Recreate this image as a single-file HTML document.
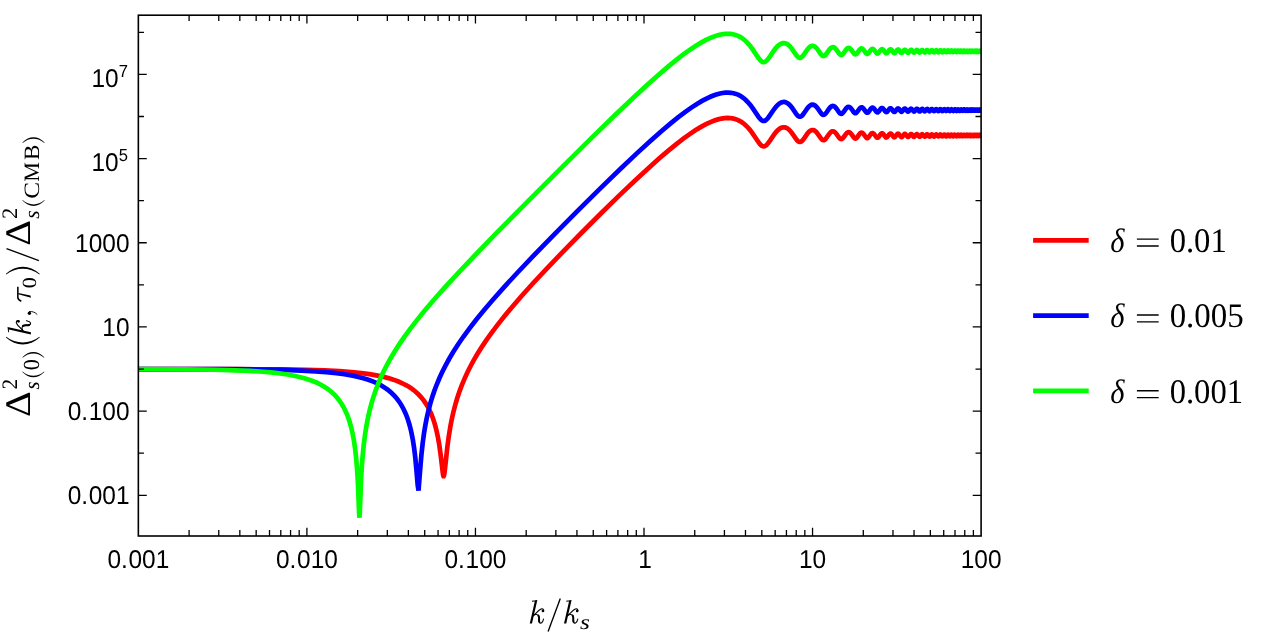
<!DOCTYPE html>
<html><head><meta charset="utf-8"><title>Plot</title>
<style>html,body{margin:0;padding:0;background:#fff;}body{width:1264px;height:642px;overflow:hidden;font-family:"Liberation Sans",sans-serif;}svg{display:block;will-change:transform;}text{text-rendering:geometricPrecision;}</style>
</head><body>
<svg width="1264" height="642" viewBox="0 0 1264 642">
<rect width="1264" height="642" fill="#fff"/>
<defs><clipPath id="c"><rect x="138.35" y="15.2" width="842.75" height="520.80"/></clipPath></defs>
<g clip-path="url(#c)" fill="none" stroke-width="4.7" stroke-linejoin="miter" stroke-miterlimit="3" stroke-linecap="butt">
<path stroke="#ff0000" d="M137.35,369.04l101,0.12 41,0.28 26,0.43 19,0.59 15,0.74 12,0.88 10,1.01 8,1.07 7,1.18 6,1.24 6,1.53 5,1.54 5,1.84 4,1.76 4,2.06 3,1.79 3,2.05 3,2.36 3,2.75 2,2.09 2,2.34 2,2.65 2,3.02 2,3.48 2,4.07 1,2.3 1,2.52 1,2.78 1,3.08 1,3.45 1,3.88 1.56,7.2 1.44,8.29 1.41,10.19 2.13,18 0.4,2.04 0.24,0.5 0.16,0.01 0.28,-0.57 0.48,-2.43 0.9,-7.57 1.91,-17.78 1.49,-11.25 1.6,-9.88 1,-5.29 1,-4.77 1,-4.36 2,-7.72 2,-6.72 2,-5.98 2,-5.42 3,-7.31 3,-6.58 3,-6.01 3,-5.57 4,-6.89 4,-6.41 5,-7.49 5,-7.04 6,-7.99 7,-8.84 8,-9.63 9,-10.38 11,-12.22 13,-13.97 16,-16.72 19,-19.38 20,-19.97 19,-18.57 16,-15.25 13,-12.02 11,-9.82 9,-7.71 8,-6.53 7,-5.41 6,-4.34 6,-4.03 5.65,-3.44 5,-2.71 4.5,-2.11 4,-1.57 3.5,-1.11 3.5,-0.82 3,-0.45 3,-0.17 2.5,0.09 2.5,0.33 2.5,0.59 2.5,0.88 2.5,1.22 2.5,1.58 2,1.55 2.5,2.34 2.5,2.8 2.5,3.26 3.5,5.17 3,4.45 1.5,1.89 1,1.01 1,0.74 1,0.42 0.5,0.08 0.5,-0.01 0.5,-0.11 1,-0.46 1,-0.78 1.5,-1.66 2,-2.79 4,-5.93 2,-2.55 1.5,-1.61 1.5,-1.3 1.5,-0.97 1.5,-0.62 1,-0.22 1,-0.04 1,0.12 1,0.29 1.5,0.77 1.5,1.17 1.5,1.55 1.5,1.89 4,5.84 1,1.27 1,1.01 0.5,0.37 0.5,0.26 0.5,0.15 0.75,0.01 0.75,-0.27 0.75,-0.52 1,-1.02 1.75,-2.38 2.75,-4.01 1.5,-1.78 1.25,-1.1 1,-0.59 1,-0.31 1,-0.02 1,0.28 1,0.58 1.25,1.12 1.5,1.85 3,4.34 1,1.15 0.75,0.58 0.75,0.28 0.75,-0.05 0.75,-0.39 0.75,-0.68 1.25,-1.61 2.5,-3.61 1.25,-1.4 1,-0.75 0.75,-0.3 0.75,-0.07 0.75,0.17 0.75,0.4 1,0.89 1.25,1.56 2.25,3.25 1,1.08 0.75,0.44 0.5,0.07 0.5,-0.11 0.75,-0.49 1,-1.14 2.5,-3.56 1,-1.06 0.75,-0.49 0.75,-0.21 0.75,0.11 0.75,0.41 0.75,0.7 1.25,1.63 1.75,2.49 0.75,0.73 0.5,0.27 0.5,0.06 0.5,-0.15 0.75,-0.6 1,-1.29 1.75,-2.48 0.75,-0.78 0.75,-0.45 0.5,-0.1 0.5,0.06 0.75,0.42 0.75,0.75 2.25,3.15 0.75,0.74 0.5,0.25 0.5,0 0.5,-0.24 0.75,-0.75 2,-2.82 0.75,-0.77 0.5,-0.3 0.5,-0.1 0.5,0.09 0.75,0.51 1,1.22 1.5,2.11 0.5,0.48 0.5,0.24 0.5,-0.03 0.5,-0.31 0.75,-0.85 1.5,-2.14 0.75,-0.74 0.5,-0.25 0.5,-0.02 0.5,0.21 0.75,0.71 1.75,2.45 0.5,0.49 0.5,0.23 0.5,-0.08 0.5,-0.36 1,-1.32 1,-1.38 0.5,-0.47 0.5,-0.24 0.5,0.02 0.5,0.28 0.75,0.83 1.25,1.78 0.5,0.51 0.5,0.23 0.25,-0.02 0.5,-0.27 0.75,-0.89 1.25,-1.74 0.5,-0.42 0.5,-0.15 0.5,0.14 0.5,0.42 1.75,2.35 0.5,0.36 0.25,0.06 0.25,-0.05 0.5,-0.35 1,-1.35 0.75,-0.98 0.5,-0.37 0.25,-0.07 0.25,0 0.5,0.26 0.75,0.88 1,1.41 0.5,0.41 0.25,0.07 0.25,-0.04 0.5,-0.35 1.5,-2.03 0.5,-0.41 0.25,-0.08 0.25,0.01 0.5,0.28 0.75,0.94 0.75,1.06 0.5,0.43 0.25,0.07 0.25,-0.04 0.5,-0.38 1.25,-1.72 0.5,-0.45 0.25,-0.09 0.25,0.01 0.5,0.3 1,1.34 0.5,0.63 0.25,0.2 0.25,0.09 0.25,-0.02 0.25,-0.13 0.5,-0.56 1,-1.38 0.5,-0.36 0.25,-0.03 0.25,0.07 0.5,0.44 1.25,1.67 0.25,0.17 0.25,0.05 0.25,-0.07 0.5,-0.48 1,-1.38 0.25,-0.23 0.25,-0.14 0.25,-0.02 0.25,0.1 0.5,0.48 1,1.38 0.25,0.2 0.25,0.09 0.25,-0.05 0.5,-0.45 1,-1.37 0.25,-0.21 0.25,-0.1 0.25,0.03 0.25,0.14 0.5,0.57 0.75,1.05 0.25,0.22 0.25,0.1 0.25,-0.04 0.5,-0.46 1,-1.34 0.25,-0.17 0.25,-0.04 0.25,0.09 0.5,0.51 0.75,1.05 0.25,0.24 0.25,0.1 0.25,-0.04 0.5,-0.48 0.75,-1.06 0.25,-0.23 0.25,-0.12 0.25,0.03 0.25,0.15 1.25,1.58 0.25,0.12 0.25,-0.04 0.25,-0.19 1,-1.33 0.25,-0.21 0.25,-0.06 0.25,0.07 0.5,0.52 0.75,1.01 0.25,0.16 0.25,0 0.25,-0.16 1,-1.31 0.25,-0.2 0.25,-0.05 0.25,0.11 0.5,0.57 0.5,0.71 0.25,0.23 0.25,0.08 0.25,-0.09 0.5,-0.58 0.5,-0.7 0.25,-0.22 0.25,-0.07 0.25,0.09 0.5,0.57 0.5,0.7 0.25,0.21 0.25,0.05 0.25,-0.13 1,-1.28 0.25,-0.16 0.25,0.02 0.25,0.17 0.75,1.02 0.25,0.24 0.25,0.09 0.25,-0.11 1,-1.26 0.25,-0.14 0.25,0.03 0.25,0.2 0.75,1.02 0.25,0.2 0.25,0 0.25,-0.17 0.75,-1.02 0.25,-0.2 0.25,-0.03 0.25,0.16 0.75,1 0.25,0.21 0.25,0.03 0.25,-0.17 0.75,-1 0.25,-0.19 0.25,0.01 0.25,0.18 0.75,1 0.25,0.15 0.25,-0.05 0.5,-0.6 0.5,-0.61 0.25,-0.07 0.25,0.12 0.75,0.99 0.25,0.19 0.25,-0.03 0.25,-0.22 0.5,-0.71 0.25,-0.25 0.25,-0.07 0.25,0.14 0.75,0.98 0.25,0.15 0.25,-0.08 0.75,-0.97 0.25,-0.18 0.25,0.03 0.25,0.22 0.5,0.7 0.25,0.23 0.25,0 0.25,-0.21 0.5,-0.71 0.25,-0.22 0.25,-0.01 0.25,0.19 0.5,0.7 0.25,0.23 0.25,0.01 0.25,-0.22 0.5,-0.69 0.25,-0.2 0.25,0.01 0.25,0.24 0.5,0.69 0.25,0.17 0.25,-0.07 0.75,-0.94 0.25,-0.11 0.25,0.13 0.75,0.93 0.25,0.03 0.25,-0.22 0.5,-0.69 0.25,-0.16 0.25,0.08 0.25,0.29"/>
<path stroke="#0000ff" d="M137.35,369.05l83,0.14 38,0.3 25,0.47 18,0.6 14,0.73 11,0.82 10,1.03 8,1.08 7,1.19 6,1.27 6,1.54 5,1.56 5,1.88 4,1.79 4,2.09 3,1.83 3,2.09 3,2.41 3,2.82 2,2.14 2,2.42 2,2.73 2,3.12 2,3.62 2,4.24 1,2.42 1,2.66 1,2.94 1,3.29 1,3.71 1,4.23 1.48,7.55 1.29,8.3 1.2,9.99 1.2,13 1.21,14.31 0.85,5.24 0.35,-5.36 1.21,-15.36 1.28,-15.17 1.28,-11.79 1.41,-10.2 1.24,-7.45 1,-5.23 1,-4.71 1,-4.3 2,-7.61 2,-6.63 2,-5.9 2,-5.36 3,-7.23 3,-6.52 3,-5.96 4,-7.3 4,-6.72 5,-7.79 5,-7.27 6,-8.2 7,-9.03 8,-9.79 9,-10.51 11,-12.35 13,-14.09 16,-16.85 20,-20.56 24,-24.19 24,-23.75 20,-19.4 16,-15.15 13,-11.93 11,-9.73 9,-7.62 8,-6.44 7,-5.3 6,-4.25 6,-3.9 5.15,-3.03 4.5,-2.35 4.5,-2.03 4,-1.5 3.5,-1.03 3.5,-0.73 3,-0.35 3,-0.08 2.5,0.19 2.5,0.43 2.5,0.7 2.5,1.01 2.5,1.36 2.5,1.74 2,1.69 2.5,2.52 2.5,2.99 2.5,3.44 5.5,8.21 1.5,1.89 1,1.01 1,0.74 1,0.42 0.5,0.07 0.5,-0.01 0.5,-0.1 1,-0.46 1,-0.79 1.5,-1.66 2,-2.8 4,-5.92 2,-2.56 1.5,-1.6 1.5,-1.31 1.5,-0.97 1.5,-0.62 1,-0.22 1,-0.04 1,0.12 1,0.3 1.5,0.77 1.5,1.16 1.5,1.55 1.5,1.89 4,5.85 1,1.28 1,1.01 0.5,0.37 0.5,0.26 0.5,0.15 0.75,0 0.75,-0.27 0.75,-0.52 1,-1.02 1.75,-2.38 2.75,-4.01 1.5,-1.78 1.25,-1.11 1,-0.59 1,-0.31 1,-0.01 1,0.28 1,0.58 1.25,1.12 1.5,1.84 3,4.35 1,1.15 0.75,0.59 0.75,0.28 0.75,-0.06 0.75,-0.39 0.75,-0.68 1.25,-1.61 2.5,-3.61 1.25,-1.41 1,-0.74 0.75,-0.31 0.75,-0.07 0.75,0.17 0.75,0.41 1,0.88 1.25,1.57 2.25,3.25 1,1.08 0.75,0.44 0.5,0.07 0.5,-0.11 0.75,-0.49 1,-1.14 2.5,-3.56 1,-1.06 0.75,-0.5 0.75,-0.2 0.75,0.11 0.75,0.41 0.75,0.69 1.25,1.64 1.75,2.49 0.75,0.73 0.5,0.27 0.5,0.06 0.5,-0.15 0.75,-0.6 1,-1.29 1.75,-2.49 0.75,-0.77 0.75,-0.46 0.5,-0.1 0.5,0.07 0.75,0.42 0.75,0.75 2.25,3.15 0.75,0.75 0.5,0.24 0.5,0 0.5,-0.24 0.75,-0.75 2,-2.83 0.75,-0.76 0.5,-0.3 0.5,-0.11 0.5,0.1 0.75,0.5 1,1.23 1.5,2.11 0.5,0.48 0.5,0.24 0.5,-0.03 0.5,-0.3 0.75,-0.86 1.5,-2.14 0.75,-0.74 0.5,-0.25 0.5,-0.02 0.5,0.21 0.75,0.71 1.75,2.45 0.5,0.49 0.5,0.23 0.5,-0.08 0.5,-0.36 1,-1.32 1,-1.38 0.5,-0.48 0.5,-0.24 0.5,0.02 0.5,0.28 0.75,0.84 1.25,1.78 0.5,0.51 0.5,0.23 0.25,-0.01 0.5,-0.28 0.75,-0.89 1.25,-1.74 0.5,-0.42 0.5,-0.16 0.5,0.15 0.5,0.42 1.75,2.35 0.5,0.37 0.25,0.05 0.25,-0.05 0.5,-0.35 1,-1.35 0.75,-0.98 0.5,-0.37 0.25,-0.08 0.25,0.01 0.5,0.26 0.75,0.88 1,1.41 0.5,0.41 0.25,0.07 0.25,-0.04 0.5,-0.35 1.5,-2.03 0.5,-0.41 0.25,-0.08 0.25,0.01 0.5,0.28 0.75,0.93 0.75,1.07 0.5,0.43 0.25,0.07 0.25,-0.04 0.5,-0.38 1.25,-1.72 0.5,-0.45 0.25,-0.09 0.25,0.01 0.5,0.3 1,1.34 0.5,0.63 0.25,0.2 0.25,0.09 0.25,-0.02 0.25,-0.13 0.5,-0.56 1,-1.38 0.5,-0.36 0.25,-0.03 0.25,0.07 0.5,0.44 1.25,1.67 0.25,0.17 0.25,0.05 0.25,-0.07 0.5,-0.48 1,-1.38 0.25,-0.24 0.25,-0.13 0.25,-0.02 0.25,0.09 0.5,0.49 1,1.38 0.25,0.2 0.25,0.09 0.25,-0.05 0.5,-0.45 1,-1.37 0.25,-0.21 0.25,-0.1 0.25,0.03 0.25,0.14 0.5,0.57 0.75,1.05 0.25,0.22 0.25,0.1 0.25,-0.04 0.5,-0.46 1,-1.34 0.25,-0.17 0.25,-0.04 0.25,0.09 0.5,0.51 0.75,1.05 0.25,0.24 0.25,0.1 0.25,-0.04 0.5,-0.48 0.75,-1.06 0.25,-0.23 0.25,-0.12 0.25,0.02 0.25,0.16 1.25,1.58 0.25,0.12 0.25,-0.04 0.25,-0.19 1,-1.33 0.25,-0.21 0.25,-0.07 0.25,0.08 0.5,0.52 0.75,1.01 0.25,0.16 0.25,0 0.25,-0.16 1,-1.32 0.25,-0.19 0.25,-0.05 0.25,0.1 0.5,0.58 0.5,0.71 0.25,0.23 0.25,0.08 0.25,-0.09 0.5,-0.58 0.5,-0.7 0.25,-0.22 0.25,-0.07 0.25,0.09 0.5,0.57 0.5,0.7 0.25,0.21 0.25,0.05 0.25,-0.13 1,-1.29 0.25,-0.15 0.25,0.01 0.25,0.18 0.75,1.02 0.25,0.24 0.25,0.09 0.25,-0.11 1,-1.26 0.25,-0.14 0.25,0.03 0.25,0.2 0.75,1.02 0.25,0.2 0.25,0 0.25,-0.17 0.75,-1.02 0.25,-0.2 0.25,-0.03 0.25,0.16 0.75,1 0.25,0.21 0.25,0.03 0.25,-0.17 0.75,-1 0.25,-0.19 0.25,0 0.25,0.19 0.75,1 0.25,0.15 0.25,-0.05 0.5,-0.6 0.5,-0.61 0.25,-0.07 0.25,0.12 0.75,0.99 0.25,0.19 0.25,-0.03 0.25,-0.22 0.5,-0.71 0.25,-0.25 0.25,-0.07 0.25,0.14 0.75,0.98 0.25,0.15 0.25,-0.08 0.75,-0.97 0.25,-0.18 0.25,0.02 0.25,0.23 0.5,0.7 0.25,0.23 0.25,0 0.25,-0.21 0.5,-0.71 0.25,-0.22 0.25,-0.02 0.25,0.2 0.5,0.7 0.25,0.23 0.25,0.01 0.25,-0.22 0.5,-0.69 0.25,-0.21 0.25,0.02 0.25,0.24 0.5,0.69 0.25,0.17 0.25,-0.07 0.75,-0.94 0.25,-0.11 0.25,0.13 0.75,0.93 0.25,0.03 0.25,-0.22 0.5,-0.69 0.25,-0.16 0.25,0.08 0.25,0.29"/>
<path stroke="#00ff00" d="M137.35,369.11l49,0.24 29,0.4 20,0.53 15,0.65 13,0.85 10,0.91 9,1.08 8,1.26 7,1.4 6,1.49 5,1.51 5,1.8 4,1.72 4,2.01 3,1.74 3,1.99 3,2.3 3,2.66 2,2.03 2,2.27 2,2.57 2,2.91 2,3.36 2,3.91 1,2.22 1,2.43 1,2.67 1,2.97 1,3.32 1,3.76 1,4.31 1.44,7.52 1.25,8.35 1.08,9.52 0.96,11.44 0.85,14.11 0.84,20.77 0.36,9.82 0.32,3.79 0.32,-4.55 1.09,-29.14 0.84,-15.61 1,-13.26 1.17,-11.45 1.32,-10.11 1.16,-7.25 1,-5.42 1,-4.85 1,-4.39 2,-7.75 2,-6.72 2,-5.97 2,-5.4 3,-7.28 3,-6.55 3,-5.99 4,-7.32 4,-6.74 5,-7.81 5,-7.28 6,-8.22 7,-9.04 8,-9.8 9,-10.53 11,-12.36 13,-14.12 16,-16.89 21,-21.67 29,-29.4 36,-36.03 32,-31.63 23,-22.36 18,-17.12 14,-12.94 11,-9.82 10,-8.56 8,-6.52 7,-5.39 7,-5.04 6,-3.96 5.15,-3.09 5,-2.66 4.5,-2.07 4,-1.53 3.5,-1.07 3.5,-0.78 3,-0.39 3,-0.13 2.5,0.14 2.5,0.38 2.5,0.65 2.5,0.95 2.5,1.28 2.5,1.66 2,1.63 2.5,2.43 2.5,2.9 2.5,3.35 6,8.93 1.5,1.89 1,1.01 1,0.74 1,0.42 0.5,0.08 0.5,-0.01 0.5,-0.1 1,-0.47 1,-0.78 1.5,-1.67 2,-2.79 4,-5.93 2,-2.56 1.5,-1.61 1.5,-1.3 1.5,-0.97 1.5,-0.63 1,-0.21 1,-0.05 1,0.13 1,0.29 1.5,0.77 1.5,1.17 1.5,1.55 1.5,1.89 4,5.85 1,1.28 1,1.01 0.5,0.37 0.5,0.26 0.5,0.15 0.75,0 0.75,-0.26 0.75,-0.52 1,-1.03 1.75,-2.38 2.75,-4.01 1.5,-1.78 1.25,-1.11 1,-0.59 1,-0.31 1,-0.02 1,0.29 1,0.57 1.25,1.13 1.5,1.84 3,4.36 1,1.15 0.75,0.58 0.75,0.28 0.75,-0.06 0.75,-0.39 0.75,-0.68 1.25,-1.61 2.5,-3.61 1.25,-1.41 1,-0.75 0.75,-0.3 0.75,-0.07 0.75,0.17 0.75,0.4 1,0.89 1.25,1.57 2.25,3.26 1,1.08 0.75,0.43 0.5,0.08 0.5,-0.11 0.75,-0.49 1,-1.14 2.5,-3.57 1,-1.06 0.75,-0.5 0.75,-0.2 0.75,0.11 0.75,0.41 0.75,0.69 1.25,1.64 1.75,2.49 0.75,0.73 0.5,0.27 0.5,0.06 0.5,-0.15 0.75,-0.6 1,-1.28 1.75,-2.5 0.75,-0.77 0.75,-0.46 0.5,-0.1 0.5,0.07 0.75,0.42 0.75,0.75 2.25,3.15 0.75,0.75 0.5,0.24 0.5,0 0.5,-0.24 0.75,-0.75 2,-2.83 0.75,-0.76 0.5,-0.3 0.5,-0.11 0.5,0.1 0.75,0.5 1,1.23 1.5,2.11 0.5,0.48 0.5,0.24 0.5,-0.03 0.5,-0.3 0.75,-0.86 1.5,-2.14 0.75,-0.75 0.5,-0.24 0.5,-0.02 0.5,0.21 0.75,0.71 1.75,2.45 0.5,0.49 0.5,0.23 0.5,-0.07 0.5,-0.37 1,-1.32 1,-1.38 0.5,-0.48 0.5,-0.24 0.5,0.02 0.5,0.28 0.75,0.84 1.25,1.78 0.5,0.52 0.5,0.22 0.25,-0.01 0.5,-0.28 0.75,-0.89 1.25,-1.74 0.5,-0.42 0.5,-0.16 0.5,0.15 0.5,0.42 1.75,2.36 0.5,0.36 0.25,0.05 0.25,-0.04 0.5,-0.35 1,-1.36 0.75,-0.98 0.5,-0.37 0.25,-0.08 0.25,0.01 0.5,0.26 0.75,0.88 1,1.41 0.5,0.41 0.25,0.07 0.25,-0.04 0.5,-0.35 1.5,-2.03 0.5,-0.41 0.25,-0.08 0.25,0.01 0.5,0.28 0.75,0.94 0.75,1.06 0.5,0.43 0.25,0.07 0.25,-0.04 0.5,-0.38 1.25,-1.72 0.5,-0.45 0.25,-0.09 0.25,0.01 0.5,0.3 1,1.34 0.5,0.63 0.25,0.2 0.25,0.1 0.25,-0.03 0.25,-0.13 0.5,-0.55 1,-1.39 0.5,-0.36 0.25,-0.03 0.25,0.07 0.5,0.44 1.25,1.67 0.25,0.17 0.25,0.06 0.25,-0.08 0.5,-0.47 1,-1.39 0.25,-0.24 0.25,-0.13 0.25,-0.02 0.25,0.09 0.5,0.49 1,1.38 0.25,0.2 0.25,0.09 0.25,-0.05 0.5,-0.45 1,-1.37 0.25,-0.21 0.25,-0.1 0.25,0.03 0.25,0.14 0.5,0.57 0.75,1.05 0.25,0.22 0.25,0.1 0.25,-0.04 0.5,-0.46 1,-1.34 0.25,-0.17 0.25,-0.04 0.25,0.09 0.5,0.51 0.75,1.06 0.25,0.23 0.25,0.1 0.25,-0.04 0.5,-0.48 0.75,-1.06 0.25,-0.23 0.25,-0.12 0.25,0.02 0.25,0.16 1,1.33 0.25,0.25 0.25,0.12 0.25,-0.04 0.25,-0.18 1,-1.34 0.25,-0.21 0.25,-0.07 0.25,0.08 0.5,0.52 0.75,1.02 0.25,0.15 0.25,0 0.25,-0.16 1,-1.32 0.25,-0.19 0.25,-0.05 0.25,0.1 0.5,0.58 0.5,0.71 0.25,0.23 0.25,0.08 0.25,-0.09 0.5,-0.58 0.5,-0.7 0.25,-0.22 0.25,-0.07 0.25,0.09 0.5,0.57 0.5,0.7 0.25,0.21 0.25,0.05 0.25,-0.13 1,-1.29 0.25,-0.15 0.25,0.01 0.25,0.18 0.75,1.02 0.25,0.25 0.25,0.08 0.25,-0.11 1,-1.26 0.25,-0.14 0.25,0.03 0.25,0.2 0.75,1.02 0.25,0.2 0.25,0.01 0.25,-0.18 0.75,-1.02 0.25,-0.2 0.25,-0.03 0.25,0.16 0.75,1 0.25,0.22 0.25,0.02 0.25,-0.17 0.75,-1 0.25,-0.19 0.25,0.01 0.25,0.18 0.75,1 0.25,0.15 0.25,-0.05 0.5,-0.6 0.5,-0.61 0.25,-0.07 0.25,0.12 0.75,0.99 0.25,0.19 0.25,-0.03 0.25,-0.22 0.5,-0.71 0.25,-0.25 0.25,-0.07 0.25,0.14 0.75,0.98 0.25,0.15 0.25,-0.08 0.75,-0.97 0.25,-0.18 0.25,0.02 0.25,0.23 0.5,0.7 0.25,0.23 0.25,0 0.25,-0.21 0.5,-0.71 0.25,-0.22 0.25,-0.01 0.25,0.19 0.5,0.7 0.25,0.23 0.25,0.01 0.25,-0.22 0.5,-0.69 0.25,-0.21 0.25,0.02 0.25,0.24 0.5,0.69 0.25,0.17 0.25,-0.07 0.75,-0.94 0.25,-0.11 0.25,0.13 0.75,0.94 0.25,0.02 0.25,-0.22 0.5,-0.69 0.25,-0.16 0.25,0.08 0.25,0.29"/>
</g>
<path d="M189.09,536.0v-5.9M189.09,15.2v5.9M218.77,536.0v-5.9M218.77,15.2v5.9M239.83,536.0v-5.9M239.83,15.2v5.9M256.16,536.0v-5.9M256.16,15.2v5.9M269.51,536.0v-5.9M269.51,15.2v5.9M280.79,536.0v-5.9M280.79,15.2v5.9M290.57,536.0v-5.9M290.57,15.2v5.9M299.19,536.0v-5.9M299.19,15.2v5.9M306.90,536.0v-8.2M306.90,15.2v8.2M357.64,536.0v-5.9M357.64,15.2v5.9M387.32,536.0v-5.9M387.32,15.2v5.9M408.38,536.0v-5.9M408.38,15.2v5.9M424.71,536.0v-5.9M424.71,15.2v5.9M438.06,536.0v-5.9M438.06,15.2v5.9M449.34,536.0v-5.9M449.34,15.2v5.9M459.12,536.0v-5.9M459.12,15.2v5.9M467.74,536.0v-5.9M467.74,15.2v5.9M475.45,536.0v-8.2M475.45,15.2v8.2M526.19,536.0v-5.9M526.19,15.2v5.9M555.87,536.0v-5.9M555.87,15.2v5.9M576.93,536.0v-5.9M576.93,15.2v5.9M593.26,536.0v-5.9M593.26,15.2v5.9M606.61,536.0v-5.9M606.61,15.2v5.9M617.89,536.0v-5.9M617.89,15.2v5.9M627.67,536.0v-5.9M627.67,15.2v5.9M636.29,536.0v-5.9M636.29,15.2v5.9M644.00,536.0v-8.2M644.00,15.2v8.2M694.74,536.0v-5.9M694.74,15.2v5.9M724.42,536.0v-5.9M724.42,15.2v5.9M745.48,536.0v-5.9M745.48,15.2v5.9M761.81,536.0v-5.9M761.81,15.2v5.9M775.16,536.0v-5.9M775.16,15.2v5.9M786.44,536.0v-5.9M786.44,15.2v5.9M796.22,536.0v-5.9M796.22,15.2v5.9M804.84,536.0v-5.9M804.84,15.2v5.9M812.55,536.0v-8.2M812.55,15.2v8.2M863.29,536.0v-5.9M863.29,15.2v5.9M892.97,536.0v-5.9M892.97,15.2v5.9M914.03,536.0v-5.9M914.03,15.2v5.9M930.36,536.0v-5.9M930.36,15.2v5.9M943.71,536.0v-5.9M943.71,15.2v5.9M954.99,536.0v-5.9M954.99,15.2v5.9M964.77,536.0v-5.9M964.77,15.2v5.9M973.39,536.0v-5.9M973.39,15.2v5.9M138.35,495.30h8.4M981.1,495.30h-8.4M138.35,453.21h5.6M981.1,453.21h-5.6M138.35,411.12h8.4M981.1,411.12h-8.4M138.35,369.03h5.6M981.1,369.03h-5.6M138.35,326.94h8.4M981.1,326.94h-8.4M138.35,284.85h5.6M981.1,284.85h-5.6M138.35,242.76h8.4M981.1,242.76h-8.4M138.35,200.67h5.6M981.1,200.67h-5.6M138.35,158.58h8.4M981.1,158.58h-8.4M138.35,116.49h5.6M981.1,116.49h-5.6M138.35,74.40h8.4M981.1,74.40h-8.4M138.35,32.31h5.6M981.1,32.31h-5.6" stroke="#000" stroke-width="1.3" fill="none"/>
<rect x="138.35" y="15.2" width="842.75" height="520.80" fill="none" stroke="#000" stroke-width="1.6"/>
<g font-family="Liberation Sans, sans-serif" font-size="25.73" fill="#000" style="font-kerning:none">
<text transform="translate(138.35,567.8) scale(0.9505,1)" text-anchor="middle">0<tspan letter-spacing="0.7">.</tspan>001</text>
<text transform="translate(306.90,567.8) scale(0.9505,1)" text-anchor="middle">0<tspan letter-spacing="0.7">.</tspan>010</text>
<text transform="translate(475.45,567.8) scale(0.9505,1)" text-anchor="middle">0<tspan letter-spacing="0.7">.</tspan>100</text>
<text transform="translate(645.00,567.8) scale(0.9505,1)" text-anchor="middle">1</text>
<text transform="translate(812.55,567.8) scale(0.9505,1)" text-anchor="middle">10</text>
<text transform="translate(981.10,567.8) scale(0.9505,1)" text-anchor="middle">100</text>
<text transform="translate(129.5,251.66) scale(0.9505,1)" text-anchor="end">1000</text>
<text transform="translate(129.5,335.84) scale(0.9505,1)" text-anchor="end">10</text>
<text transform="translate(129.5,420.02) scale(0.9505,1)" text-anchor="end">0<tspan letter-spacing="0.7">.</tspan>100</text>
<text transform="translate(129.5,504.20) scale(0.9505,1)" text-anchor="end">0<tspan letter-spacing="0.7">.</tspan>001</text>
<text transform="translate(118.6,87.10) scale(0.9505,1)" text-anchor="end">10</text>
<text transform="translate(127.9,76.60) scale(0.9505,1)" text-anchor="end" font-size="17.49">7</text>
<text transform="translate(118.6,171.28) scale(0.9505,1)" text-anchor="end">10</text>
<text transform="translate(127.9,160.78) scale(0.9505,1)" text-anchor="end" font-size="17.49">5</text>
</g>
<g stroke-width="4.7" fill="none">
<path stroke="#ff0000" d="M1033.1,240.4H1088.7"/>
<path stroke="#0000ff" d="M1033.1,315.7H1088.7"/>
<path stroke="#00ff00" d="M1033.1,390.9H1088.7"/>
</g>
<g fill="#000" style="font-kerning:none">
<text transform="translate(1110.21,251.77) scale(0.8975,1)" font-family="Liberation Serif, serif" font-size="34.02" font-style="italic">δ</text>
<path d="M1136.9,239.10h21.8M1136.9,246.00h21.8" stroke="#000" stroke-width="1.35" fill="none"/>
<text transform="translate(1169.66,251.81) scale(0.9471,1)" font-family="Liberation Serif, serif" font-size="34.45">0.01</text>
<text transform="translate(1110.21,327.37) scale(0.8975,1)" font-family="Liberation Serif, serif" font-size="34.02" font-style="italic">δ</text>
<path d="M1136.9,315.00h21.8M1136.9,321.90h21.8" stroke="#000" stroke-width="1.35" fill="none"/>
<text transform="translate(1169.64,327.41) scale(0.9565,1)" font-family="Liberation Serif, serif" font-size="34.45">0.005</text>
<text transform="translate(1110.21,402.87) scale(0.8975,1)" font-family="Liberation Serif, serif" font-size="34.02" font-style="italic">δ</text>
<path d="M1136.9,390.70h21.8M1136.9,397.60h21.8" stroke="#000" stroke-width="1.35" fill="none"/>
<text transform="translate(1169.66,402.91) scale(0.9469,1)" font-family="Liberation Serif, serif" font-size="34.45">0.001</text>
<path d="M535.05,600.35L537.35,600 532,623.4 529.75,623.4ZM531.95,600.75L535.35,600.2 535.15,601.2 532.05,601.65Z" fill="#000"/><path d="M532.95,615.9C535.45,614.3 538.25,610.2 541.05,609C542.45,608.5 543.55,609.1 543.65,610.3" fill="none" stroke="#000" stroke-width="1.15" stroke-linecap="round"/><circle cx="542.95" cy="611" r="1.35" fill="#000"/><path d="M533.45,615.2C535.05,614.2 537.65,614.2 538.65,615.8C539.75,617.6 538.65,620.1 539.2,621.7C539.6,622.9 540.55,623.3 541.35,623.05C542.45,622.6 543.15,620.9 543.55,619" fill="none" stroke="#000" stroke-width="1.15" stroke-linecap="round"/><path d="M538.35,615.5C539.75,617.6 538.65,620.1 539.2,621.6" fill="none" stroke="#000" stroke-width="2" stroke-linecap="round"/>
<path d="M548.1,631.4L560.3,598.5" stroke="#000" stroke-width="1.35" fill="none" stroke-linecap="butt"/>
<path d="M569.3,600.35L571.6,600 566.25,623.4 564,623.4ZM566.2,600.75L569.6,600.2 569.4,601.2 566.3,601.65Z" fill="#000"/><path d="M567.2,615.9C569.7,614.3 572.5,610.2 575.3,609C576.7,608.5 577.8,609.1 577.9,610.3" fill="none" stroke="#000" stroke-width="1.15" stroke-linecap="round"/><circle cx="577.2" cy="611" r="1.35" fill="#000"/><path d="M567.7,615.2C569.3,614.2 571.9,614.2 572.9,615.8C574,617.6 572.9,620.1 573.45,621.7C573.85,622.9 574.8,623.3 575.6,623.05C576.7,622.6 577.4,620.9 577.8,619" fill="none" stroke="#000" stroke-width="1.15" stroke-linecap="round"/><path d="M572.6,615.5C574,617.6 572.9,620.1 573.45,621.6" fill="none" stroke="#000" stroke-width="2" stroke-linecap="round"/>
<text transform="translate(579.99,628.50) scale(1.2208,1)" font-family="Liberation Serif, serif" font-size="20.79" font-style="italic">s</text>
<g transform="translate(30.3,415.8) rotate(-90)">
<text transform="translate(-1.23,0.10) scale(1.1146,1)" font-family="Liberation Serif, serif" font-size="36.05">Δ</text>
<text transform="translate(26.27,-13.20) scale(0.9616,1)" font-family="Liberation Serif, serif" font-size="22.05">2</text>
<text transform="translate(26.25,9.09) scale(0.9471,1)" font-family="Liberation Serif, serif" font-size="21.62" font-style="italic">s</text>
<path d="M43.8,-7.9C36.73,-1.33 36.73,7.43 43.8,14L44.3,13.75C38.47,7.43 38.47,-1.33 44.3,-7.65Z" fill="#000"/>
<text transform="translate(45.46,9.08) scale(0.9656,1)" font-family="Liberation Serif, serif" font-size="22.97">0</text>
<path d="M58.5,-7.9C65.57,-1.33 65.57,7.43 58.5,14L58,13.75C63.83,7.43 63.83,-1.33 58,-7.65Z" fill="#000"/>
<path d="M78.4,-24.4C69.07,-14.26 69.07,-0.74 78.4,9.4L79,9.15C71.47,-0.74 71.47,-14.26 79,-24.15Z" fill="#000"/>
<path d="M86.6,-22.45L88.9,-22.8 83.55,0.6 81.3,0.6ZM83.5,-22.05L86.9,-22.6 86.7,-21.6 83.6,-21.15Z" fill="#000"/><path d="M84.5,-6.9C87,-8.5 89.8,-12.6 92.6,-13.8C94,-14.3 95.1,-13.7 95.2,-12.5" fill="none" stroke="#000" stroke-width="1.15" stroke-linecap="round"/><circle cx="94.5" cy="-11.8" r="1.35" fill="#000"/><path d="M85,-7.6C86.6,-8.6 89.2,-8.6 90.2,-7C91.3,-5.2 90.2,-2.7 90.75,-1.1C91.15,0.1 92.1,0.5 92.9,0.25C94,-0.2 94.7,-1.9 95.1,-3.8" fill="none" stroke="#000" stroke-width="1.15" stroke-linecap="round"/><path d="M89.9,-7.3C91.3,-5.2 90.2,-2.7 90.75,-1.2" fill="none" stroke="#000" stroke-width="2" stroke-linecap="round"/>
<circle cx="102.6" cy="-0.9" r="1.7" fill="#000"/><path d="M104.3,-0.9C104.6,2.5 103.3,5 101.5,6.7" fill="none" stroke="#000" stroke-width="0.9" stroke-linecap="round"/>
<path d="M114.5,-9C115.5,-11.1 116.5,-12.45 118.3,-12.45L129,-12.45" fill="none" stroke="#000" stroke-width="1.55" stroke-linecap="butt" stroke-linejoin="round"/><path d="M121.6,-12L122.8,-12 120.3,0.1 118,0.75Z" fill="#000"/>
<text transform="translate(127.46,5.60) scale(1.1005,1)" font-family="Liberation Serif, serif" font-size="20.15">0</text>
<path d="M142,-24.4C151.33,-14.26 151.33,-0.74 142,9.4L141.4,9.15C148.93,-0.74 148.93,-14.26 141.4,-24.15Z" fill="#000"/>
<path d="M155.2,8.6L167.2,-23.8" stroke="#000" stroke-width="1.35" fill="none" stroke-linecap="butt"/>
<text transform="translate(169.97,0.10) scale(1.1146,1)" font-family="Liberation Serif, serif" font-size="36.05">Δ</text>
<text transform="translate(196.70,-13.20) scale(1.0294,1)" font-family="Liberation Serif, serif" font-size="22.05">2</text>
<text transform="translate(197.14,9.09) scale(1.0005,1)" font-family="Liberation Serif, serif" font-size="21.62" font-style="italic">s</text>
<path d="M215.2,-7.9C208.13,-1.24 208.13,7.64 215.2,14.3L215.7,14.05C209.87,7.64 209.87,-1.24 215.7,-7.65Z" fill="#000"/>
<text transform="translate(217.17,9.09) scale(1.1531,1)" font-family="Liberation Serif, serif" font-size="21.88">C</text>
<text transform="translate(234.06,8.40) scale(1.0068,1)" font-family="Liberation Serif, serif" font-size="21.99">M</text>
<text transform="translate(255.83,8.34) scale(1.0617,1)" font-family="Liberation Serif, serif" font-size="21.89">B</text>
<path d="M273.2,-7.9C280.27,-1.24 280.27,7.64 273.2,14.3L272.7,14.05C278.53,7.64 278.53,-1.24 272.7,-7.65Z" fill="#000"/>
</g>
</g>
</svg>
</body></html>
